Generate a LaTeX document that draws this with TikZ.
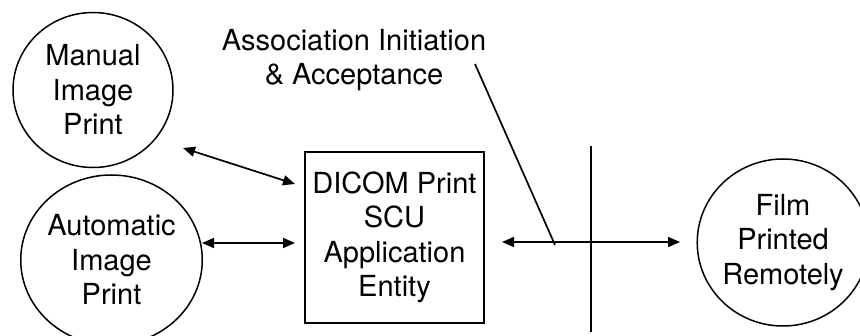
\documentclass[tikz,border=0pt]{standalone}
\usepackage{fontspec}
\setmainfont{TeX Gyre Heros}
\usetikzlibrary{arrows.meta,shapes.geometric}
\begin{document}
\begin{tikzpicture}[x=1pt,y=-1pt,
  every node/.style={font=\fontsize{29}{34.5}\selectfont, align=center},
  bubble/.style={draw, ellipse, line width=1.5pt, inner sep=0pt},
  entity/.style={draw, rectangle, line width=1.5pt, inner sep=0pt},
  link/.style={line width=1.7pt, {Triangle[length=12pt,width=10pt]}-{Triangle[length=12pt,width=10pt]}},
  plain/.style={line width=1.7pt}]
\useasboundingbox (0,0) rectangle (860,336);
\clip (0,0) rectangle (860,336);
\node[bubble, minimum width=160pt, minimum height=155pt] (manual) at (93,90) {Manual\\Image\\Print};
\node[bubble, minimum width=171pt, minimum height=170pt] (auto) at (111.5,260) {Automatic\\Image\\Print};
\node[entity, minimum width=179pt, minimum height=171pt] (dicom) at (394.5,237.5) {DICOM Print\\SCU\\Application\\Entity};
\node[bubble, minimum width=158pt, minimum height=167pt] (film) at (783,242.5) {Film\\Printed\\Remotely};
\node (assoc) at (354,60) {Association Initiation\\\& Acceptance};
\coordinate (m1) at (183,148);
\coordinate (m2) at (295,184);
\coordinate (a1) at (202,243);
\coordinate (a2) at (295,243);
\coordinate (n1) at (502,242);
\coordinate (n2) at (680,242);
\coordinate (vtop) at (591,146);
\coordinate (vbot) at (591,332);
\coordinate (ptop) at (475,64);
\coordinate (pbot) at (555,245);
\draw[link] (m1) -- (m2);
\draw[link] (a1) -- (a2);
\draw[link] (n1) -- (n2);
\draw[plain] (vtop) -- (vbot);
\draw[plain] (ptop) -- (pbot);
\end{tikzpicture}
\end{document}
